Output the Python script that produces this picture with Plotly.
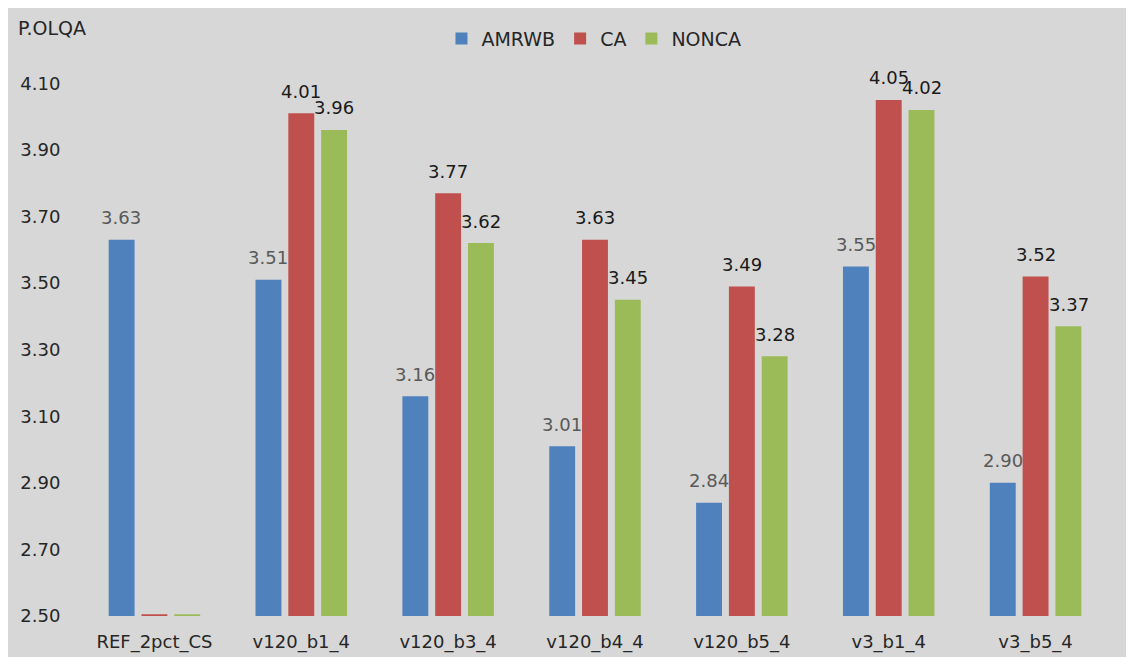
import plotly.graph_objects as go

categories = ["REF_2pct_CS", "v120_b1_4", "v120_b3_4", "v120_b4_4", "v120_b5_4", "v3_b1_4", "v3_b5_4"]
series_names = ["AMRWB", "CA", "NONCA"]
amrwb = [3.63, 3.51, 3.16, 3.01, 2.84, 3.55, 2.90]
ca = [2.505, 4.01, 3.77, 3.63, 3.49, 4.05, 3.52]
nonca = [2.505, 3.96, 3.62, 3.45, 3.28, 4.02, 3.37]
y_ticks = [2.50, 2.70, 2.90, 3.10, 3.30, 3.50, 3.70, 3.90, 4.10]

colors = ["#4F81BD", "#C0504D", "#9BBB59"]
label_colors = ["#595959", "#1A1A1A", "#1A1A1A"]
FONT = "DejaVu Sans"
BG = "#D7D7D7"

fig = go.Figure()
all_series = [amrwb, ca, nonca]
for name, vals, col in zip(series_names, all_series, colors):
    fig.add_trace(go.Bar(
        name=name, x=categories, y=vals,
        marker=dict(color=col, line=dict(width=0)),
    ))

# data labels (skip the near-empty REF bars)
shifts = [-33, 0, 33]
for vals, lc, xs in zip(all_series, label_colors, shifts):
    for c, v in zip(categories, vals):
        if v < 2.51:
            continue
        fig.add_annotation(
            x=c, y=v, text=f"{v:.2f}", showarrow=False,
            xshift=xs, yshift=22, yanchor="middle",
            font=dict(family=FONT, size=18, color=lc),
        )

fig.add_annotation(
    text="P.OLQA", xref="paper", yref="paper", x=-0.063, y=1.038,
    xanchor="left", yanchor="middle", showarrow=False,
    font=dict(family=FONT, size=19, color="#262626"),
)

fig.update_layout(
    width=1134, height=657,
    margin=dict(l=67, r=33, t=36, b=49),
    paper_bgcolor=BG, plot_bgcolor=BG,
    barmode="group", bargap=0.33, bargroupgap=0.21,
    font=dict(family=FONT, size=18, color="#262626"),
    showlegend=True,
    legend=dict(orientation="h", x=0.499, xanchor="center", y=1.02, yanchor="middle",
                bgcolor="rgba(0,0,0,0)", font=dict(family=FONT, size=19, color="#262626"),
                itemwidth=30, tracegroupgap=0),
    xaxis=dict(showgrid=False, showline=False, zeroline=False,
               ticks="outside", ticklen=9, tickcolor="rgba(0,0,0,0)",
               tickfont=dict(family=FONT, size=18, color="#262626")),
    yaxis=dict(range=[2.5, 4.2], tickvals=y_ticks, ticktext=[f"{t:.2f}" for t in y_ticks],
               showgrid=False, showline=False, zeroline=False,
               ticks="outside", ticklen=16, tickcolor="rgba(0,0,0,0)",
               tickfont=dict(family=FONT, size=18, color="#262626")),
)

fig.write_html("out.html")
